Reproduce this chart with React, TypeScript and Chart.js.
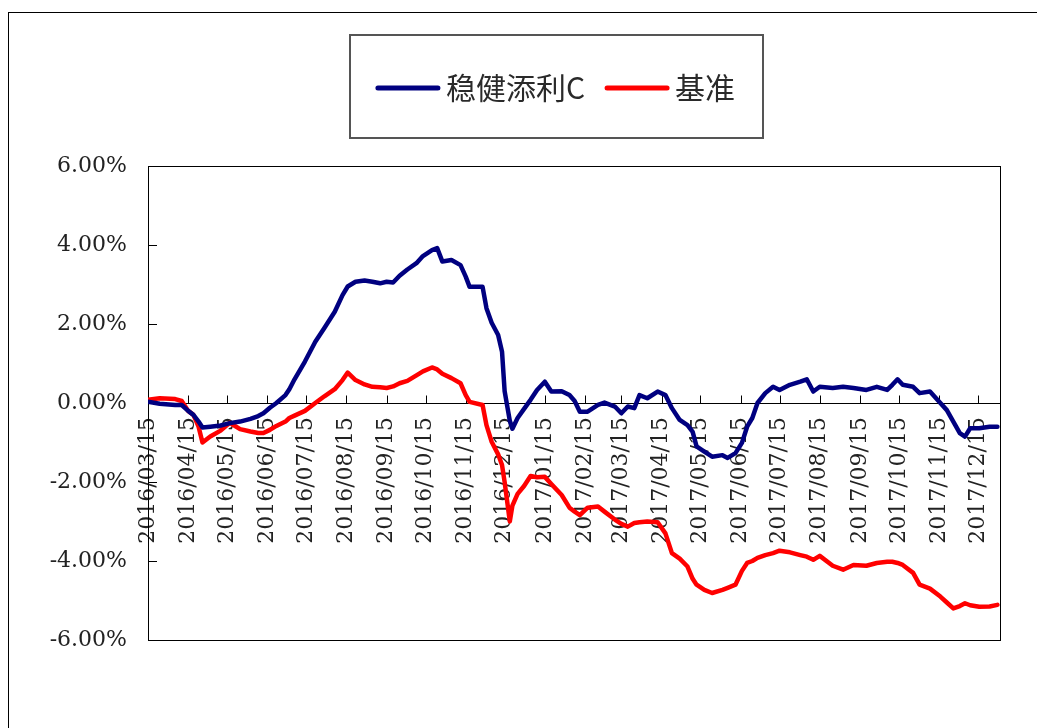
import React, { useEffect, useRef } from "react";
import { Chart, registerables } from "chart.js";

Chart.register(...registerables);

const seriesNames = ["稳健添利C", "基准"];
const seriesColors = ["#000080", "#FF0000"];

const startDate = "2016/03/15";
const endDate = "2018/01/01";

const dates = [
  "2016/03/15", "2016/03/24", "2016/04/05", "2016/04/10", "2016/04/15", "2016/04/19", "2016/04/23", "2016/04/26",
  "2016/05/02", "2016/05/10", "2016/05/17", "2016/05/25", "2016/06/02", "2016/06/08", "2016/06/12", "2016/06/17",
  "2016/06/22", "2016/06/29", "2016/07/02", "2016/07/06", "2016/07/14", "2016/07/22", "2016/07/29", "2016/08/06",
  "2016/08/12", "2016/08/16", "2016/08/22", "2016/08/29", "2016/09/04", "2016/09/10", "2016/09/15", "2016/09/20",
  "2016/09/25", "2016/10/01", "2016/10/08", "2016/10/13", "2016/10/20", "2016/10/24", "2016/10/28", "2016/11/04",
  "2016/11/11", "2016/11/15", "2016/11/18", "2016/11/28", "2016/12/01", "2016/12/05", "2016/12/10", "2016/12/13",
  "2016/12/15", "2016/12/19", "2016/12/21", "2016/12/25", "2016/12/30", "2017/01/04", "2017/01/09", "2017/01/15",
  "2017/01/20", "2017/01/28", "2017/02/03", "2017/02/07", "2017/02/11", "2017/02/17", "2017/02/25", "2017/03/02",
  "2017/03/10", "2017/03/15", "2017/03/20", "2017/03/25", "2017/03/29", "2017/04/04", "2017/04/12", "2017/04/18",
  "2017/04/23", "2017/04/29", "2017/05/05", "2017/05/09", "2017/05/12", "2017/05/18", "2017/05/24", "2017/06/01",
  "2017/06/05", "2017/06/11", "2017/06/16", "2017/06/20", "2017/06/24", "2017/06/28", "2017/07/04", "2017/07/10",
  "2017/07/15", "2017/07/23", "2017/07/31", "2017/08/05", "2017/08/10", "2017/08/15", "2017/08/25", "2017/09/02",
  "2017/09/10", "2017/09/20", "2017/09/28", "2017/10/06", "2017/10/10", "2017/10/14", "2017/10/18", "2017/10/26",
  "2017/10/31", "2017/11/08", "2017/11/16", "2017/11/21", "2017/11/26", "2017/12/01", "2017/12/05", "2017/12/09",
  "2017/12/16", "2017/12/24", "2017/12/30",
];

const fundValues = [
  0.03, -0.02, -0.05, -0.05, -0.2, -0.3, -0.47, -0.62,
  -0.6, -0.57, -0.51, -0.47, -0.4, -0.33, -0.26, -0.12,
  0.0, 0.2, 0.35, 0.6, 1.05, 1.55, 1.9, 2.31,
  2.73, 2.95, 3.07, 3.1, 3.07, 3.03, 3.07, 3.05,
  3.22, 3.38, 3.54, 3.72, 3.87, 3.92, 3.58, 3.62,
  3.49, 3.2, 2.94, 2.94, 2.4, 2.03, 1.72, 1.3,
  0.3, -0.45, -0.65, -0.38, -0.15, 0.08, 0.33, 0.54,
  0.29, 0.3, 0.2, 0.05, -0.22, -0.22, -0.05, 0.01,
  -0.09, -0.26, -0.09, -0.13, 0.2, 0.12, 0.29, 0.2,
  -0.13, -0.43, -0.56, -0.73, -1.1, -1.23, -1.36, -1.32,
  -1.39, -1.27, -1.01, -0.6, -0.38, 0.0, 0.25, 0.41,
  0.33, 0.46, 0.54, 0.6, 0.29, 0.41, 0.38, 0.41,
  0.38, 0.33, 0.41, 0.33, 0.46, 0.6, 0.46, 0.41,
  0.25, 0.29, 0.0, -0.18, -0.47, -0.76, -0.85, -0.64,
  -0.64, -0.6, -0.6,
];

const benchValues = [
  0.08, 0.12, 0.1, 0.05, -0.2, -0.3, -0.6, -1.0,
  -0.85, -0.7, -0.5, -0.66, -0.72, -0.76, -0.76, -0.68,
  -0.58, -0.47, -0.38, -0.32, -0.2, 0.0, 0.17, 0.35,
  0.58, 0.77, 0.58, 0.47, 0.41, 0.4, 0.38, 0.42,
  0.5, 0.56, 0.7, 0.8, 0.9, 0.85, 0.74, 0.63,
  0.5, 0.2, 0.03, -0.05, -0.56, -0.98, -1.3, -1.57,
  -2.0, -3.0, -2.6, -2.3, -2.1, -1.85, -1.88, -1.87,
  -2.05, -2.33, -2.65, -2.75, -2.84, -2.65, -2.62, -2.75,
  -2.95, -3.06, -3.13, -3.04, -3.02, -3.0, -3.02, -3.3,
  -3.8, -3.94, -4.14, -4.45, -4.6, -4.73, -4.81, -4.73,
  -4.68, -4.6, -4.25, -4.05, -4.0, -3.92, -3.85, -3.8,
  -3.74, -3.78, -3.85, -3.89, -3.97, -3.87, -4.12, -4.22,
  -4.1, -4.12, -4.05, -4.02, -4.02, -4.05, -4.1, -4.3,
  -4.6, -4.7, -4.9, -5.05, -5.2, -5.14, -5.07, -5.12,
  -5.16, -5.15, -5.11,
];

const tickLabels = [
  "2016/03/15", "2016/04/15", "2016/05/15", "2016/06/15", "2016/07/15", "2016/08/15",
  "2016/09/15", "2016/10/15", "2016/11/15", "2016/12/15", "2017/01/15", "2017/02/15",
  "2017/03/15", "2017/04/15", "2017/05/15", "2017/06/15", "2017/07/15", "2017/08/15",
  "2017/09/15", "2017/10/15", "2017/11/15", "2017/12/15",
];

const yMin = -6;
const yMax = 6;
const yStep = 2;

function toUTC(s: string) {
  const [y, m, d] = s.split("/").map(Number);
  return Date.UTC(y, m - 1, d);
}
function dayOf(s: string) {
  return Math.round((toUTC(s) - toUTC(startDate)) / 86400000);
}

const serifFont = "'DejaVu Serif', 'Liberation Serif', serif";
const cjkFont = "'Noto Sans CJK SC', 'Noto Sans', sans-serif";

const decorPlugin = {
  id: "decor",
  beforeDatasetsDraw(chart: any) {
    const { ctx, chartArea: a, scales } = chart;
    const x = scales.x;
    const y = scales.y;
    ctx.save();
    ctx.strokeStyle = "#000";
    ctx.lineWidth = 1;
    ctx.strokeRect(Math.round(a.left) + 0.5, Math.round(a.top) + 0.5, Math.round(a.right - a.left), Math.round(a.bottom - a.top));
    const y0 = Math.round(y.getPixelForValue(0)) + 0.5;
    ctx.beginPath();
    ctx.moveTo(a.left, y0);
    ctx.lineTo(a.right, y0);
    x.ticks.forEach((t: any) => {
      const px = Math.round(x.getPixelForValue(t.value)) + 0.5;
      ctx.moveTo(px, y0);
      ctx.lineTo(px, y0 - 8);
    });
    y.ticks.forEach((t: any) => {
      const py = Math.round(y.getPixelForValue(t.value)) + 0.5;
      ctx.moveTo(a.left, py);
      ctx.lineTo(a.left + 9, py);
    });
    ctx.stroke();
    ctx.restore();
  },
  afterDraw(chart: any) {
    const { ctx } = chart;
    const box = { left: 341, top: 22, width: 413, height: 103 };
    ctx.save();
    ctx.strokeStyle = "#555";
    ctx.lineWidth = 2;
    ctx.strokeRect(box.left, box.top, box.width, box.height);
    ctx.font = `30px ${cjkFont}`;
    ctx.textBaseline = "middle";
    ctx.textAlign = "left";
    const lineLen = 60;
    const gapText = 8;
    const gapItem = 22;
    const widths = seriesNames.map((n) => ctx.measureText(n).width);
    const total = widths.reduce((s, w) => s + lineLen + gapText + w, 0) + gapItem * (seriesNames.length - 1);
    let xPos = box.left + box.width / 2 - total / 2;
    const yMid = box.top + 53;
    seriesNames.forEach((name, i) => {
      ctx.strokeStyle = seriesColors[i];
      ctx.lineWidth = 5;
      ctx.lineCap = "round";
      ctx.beginPath();
      ctx.moveTo(xPos, yMid);
      ctx.lineTo(xPos + lineLen, yMid);
      ctx.stroke();
      ctx.fillStyle = "#2a2a2a";
      ctx.fillText(name, xPos + lineLen + gapText, yMid);
      xPos += lineLen + gapText + widths[i] + gapItem;
    });
    ctx.restore();
  },
};

export default function App() {
  const canvasRef = useRef<HTMLCanvasElement | null>(null);

  useEffect(() => {
    if (!canvasRef.current) return;
    const xs = dates.map(dayOf);
    const tickDays = tickLabels.map(dayOf);
    const chart = new Chart(canvasRef.current, {
      type: "line",
      data: {
        datasets: [
          {
            label: seriesNames[0],
            data: xs.map((d, i) => ({ x: d, y: fundValues[i] })),
            borderColor: seriesColors[0],
            backgroundColor: seriesColors[0],
            borderWidth: 4.5,
            pointRadius: 0,
            tension: 0,
            borderJoinStyle: "round",
            borderCapStyle: "round",
          },
          {
            label: seriesNames[1],
            data: xs.map((d, i) => ({ x: d, y: benchValues[i] })),
            borderColor: seriesColors[1],
            backgroundColor: seriesColors[1],
            borderWidth: 4.5,
            pointRadius: 0,
            tension: 0,
            borderJoinStyle: "round",
            borderCapStyle: "round",
          },
        ],
      },
      options: {
        responsive: false,
        animation: false,
        events: [],
        layout: { padding: { left: 0, top: 153, right: 104, bottom: 103 } },
        plugins: { legend: { display: false }, tooltip: { enabled: false }, title: { display: false } },
        scales: {
          x: {
            type: "linear",
            position: { y: 0 },
            min: 0,
            max: dayOf(endDate),
            afterBuildTicks: (scale: any) => {
              scale.ticks = tickDays.map((v) => ({ value: v }));
            },
            grid: { display: false, drawTicks: false },
            border: { display: false },
            ticks: {
              autoSkip: false,
              minRotation: 90,
              maxRotation: 90,
              padding: 14,
              color: "#222",
              font: { family: serifFont, size: 22 },
              callback: (_v: any, i: number) => tickLabels[i],
            },
          },
          y: {
            type: "linear",
            min: yMin,
            max: yMax,
            afterFit: (scale: any) => {
              scale.width = 139;
            },
            grid: { display: false, drawTicks: false },
            border: { display: false },
            ticks: {
              stepSize: yStep,
              padding: 21,
              color: "#222",
              font: { family: serifFont, size: 22 },
              callback: (v: any) => `${Number(v).toFixed(2)}%`,
            },
          },
        },
      },
      plugins: [decorPlugin],
    } as any);
    return () => chart.destroy();
  }, []);

  return (
    <div style={{ position: "fixed", left: 0, top: 0, width: 1037, height: 728, overflow: "hidden", background: "#fff" }}>
      <div
        style={{
          position: "absolute",
          left: 8,
          top: 12,
          width: 1095,
          height: 740,
          border: "1px solid #000",
          background: "#fff",
        }}
      >
        <canvas ref={canvasRef} width={1095} height={730} style={{ display: "block" }} />
      </div>
    </div>
  );
}
